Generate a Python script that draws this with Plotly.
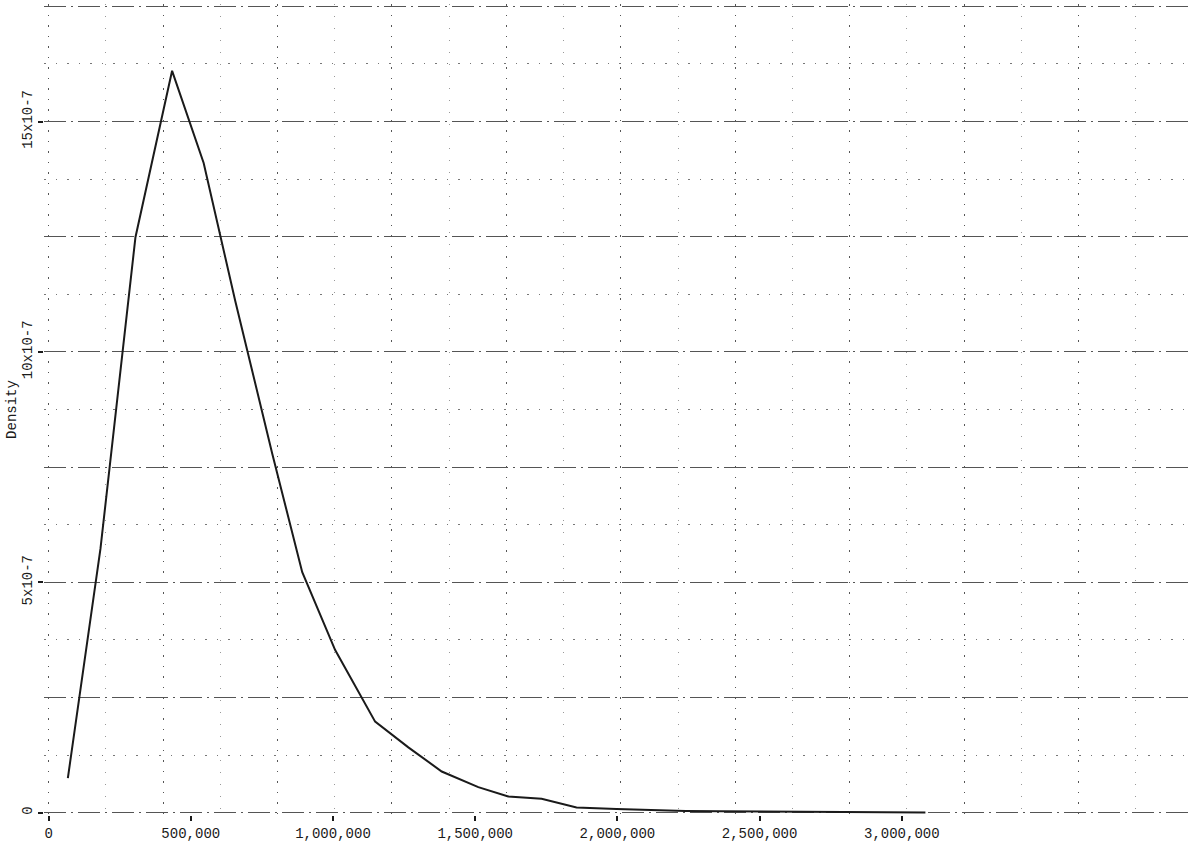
import plotly.graph_objects as go

# Data
income = [67800, 182600, 305500, 434300, 545300, 656600, 786500, 891900,
          1007700, 1148200, 1265000, 1382400, 1510900, 1616200, 1733500,
          1856400, 1996800, 2149000, 2240000, 2359000, 2479000, 2602000,
          2721000, 2840000, 2963000, 3083000]
density = [0.751e-7, 5.736e-7, 12.49e-7, 16.10e-7, 14.10e-7, 11.10e-7,
           7.79e-7, 5.22e-7, 3.53e-7, 1.976e-7, 1.418e-7, 0.894e-7,
           0.556e-7, 0.353e-7, 0.303e-7, 0.115e-7, 0.080e-7, 0.043e-7,
           0.037e-7, 0.030e-7, 0.024e-7, 0.017e-7, 0.013e-7, 0.009e-7,
           0.004e-7, 0.002e-7]

x_tickvals = [0, 500000, 1000000, 1500000, 2000000, 2500000, 3000000]
x_ticktext = ["0", "500,000", "1,000,000", "1,500,000", "2,000,000",
              "2,500,000", "3,000,000"]
y_tickvals = [0, 5e-7, 10e-7, 15e-7]
y_ticktext = ["0", "5x10-7", "10x10-7", "15x10-7"]

FONT = "Liberation Mono"
INK = "#1a1a1a"

# grid paper: 10 columns across, 7 rows high; data scales tied to it
GX_CELL = 402390.0      # income per grid column
GY_CELL = 2.5e-7        # density per grid row
PADX = 0.04             # small padding (in grid cells) so edge lines show
PADY = 0.02

fig = go.Figure()
# empty trace so that the grid-paper subplot is created
fig.add_trace(go.Scatter(x=[], y=[], xaxis="x", yaxis="y",
                         showlegend=False, hoverinfo="skip"))
fig.add_trace(go.Scatter(
    x=income, y=density, mode="lines",
    line=dict(color=INK, width=2),
    xaxis="x2", yaxis="y2", showlegend=False, hoverinfo="skip"))

fig.update_layout(
    width=1194, height=845,
    margin=dict(l=44, r=1, t=4, b=30),
    paper_bgcolor="white", plot_bgcolor="white",
    font=dict(family=FONT, size=14, color=INK),
    # grid-paper axes (background)
    xaxis=dict(range=[-PADX, 10], tick0=0, dtick=1, showgrid=True,
               griddash="1.5px,9px", gridcolor="#555", gridwidth=1.4,
               minor=dict(dtick=0.5, showgrid=True, griddash="1px,11px",
                          gridcolor="#999", gridwidth=1.1),
               showticklabels=False, ticks="", zeroline=False,
               showline=False, fixedrange=True),
    yaxis=dict(range=[-PADY, 7 + PADY], tick0=0, dtick=1, showgrid=True,
               griddash="22px,5px,2px,5px", gridcolor="#555", gridwidth=1,
               minor=dict(dtick=0.5, showgrid=True, griddash="1.5px,10px",
                          gridcolor="#777", gridwidth=1.2),
               showticklabels=False, ticks="", zeroline=False,
               showline=False, fixedrange=True),
    # data axes
    xaxis2=dict(overlaying="x", anchor="y2", side="bottom",
                range=[-PADX * GX_CELL, 10 * GX_CELL],
                tickvals=x_tickvals, ticktext=x_ticktext,
                ticks="outside", ticklen=5, tickwidth=2, tickcolor=INK,
                showgrid=False, zeroline=False, showline=False,
                tickfont=dict(family=FONT, size=14, color=INK)),
    yaxis2=dict(overlaying="y", anchor="x2", side="left",
                range=[-PADY * GY_CELL, (7 + PADY) * GY_CELL],
                tickvals=y_tickvals, ticktext=y_ticktext,
                tickangle=-90, ticks="outside", ticklen=5, tickwidth=2,
                tickcolor=INK, showgrid=False, zeroline=False, showline=False,
                tickfont=dict(family=FONT, size=14, color=INK),
                title=dict(text="Density", standoff=0,
                           font=dict(family=FONT, size=14, color=INK))),
)

fig.write_html("out.html",
               config={"displayModeBar": False},
               post_script="document.body.style.margin='0';"
                           "document.body.style.overflow='hidden';")
